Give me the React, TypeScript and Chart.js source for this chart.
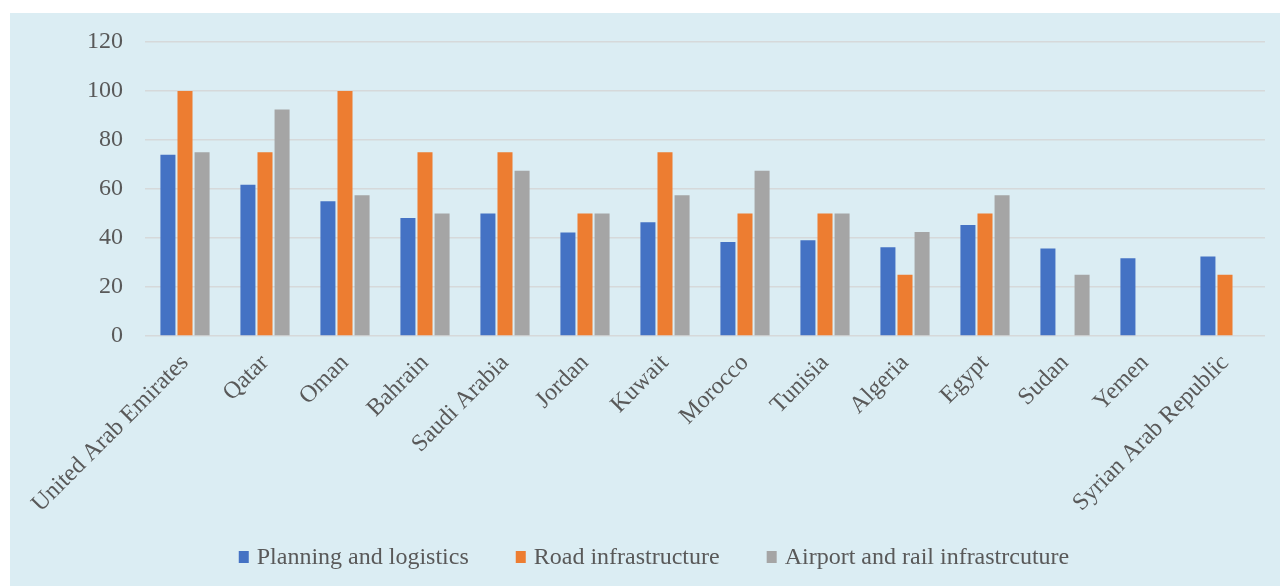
import React, { useEffect, useRef } from "react";
import { Chart, registerables } from "chart.js";

Chart.register(...registerables);

const categories = [
  "United Arab Emirates", "Qatar", "Oman", "Bahrain", "Saudi Arabia", "Jordan", "Kuwait",
  "Morocco", "Tunisia", "Algeria", "Egypt", "Sudan", "Yemen", "Syrian Arab Republic",
];
const planning = [74, 61.7, 55, 48.2, 50, 42.2, 46.4, 38.4, 39.1, 36.2, 45.3, 35.7, 31.7, 32.4];
const road = [100, 75, 100, 75, 75, 50, 75, 50, 50, 25, 50, null, null, 25];
const airport = [75, 92.5, 57.5, 50, 67.5, 50, 57.5, 67.5, 50, 42.5, 57.5, 25, null, null];
const yTicks = [0, 20, 40, 60, 80, 100, 120];

const FONT = "'Liberation Serif', 'Times New Roman', serif";
const TXT = "#595959";

const bottomLegend = {
  id: "bottomLegend",
  afterDraw(chart: any) {
    const ctx = chart.ctx as CanvasRenderingContext2D;
    ctx.save();
    ctx.font = `24px ${FONT}`;
    const boxW = 10, boxH = 12, boxGap = 8, itemGap = 47;
    const items = chart.data.datasets.map((d: any) => ({
      label: d.label as string,
      color: d.backgroundColor as string,
      w: ctx.measureText(d.label).width,
    }));
    const total =
      items.reduce((a: number, it: any) => a + boxW + boxGap + it.w, 0) + itemGap * (items.length - 1);
    let x = 644 - total / 2;
    const y = 544;
    ctx.textBaseline = "middle";
    ctx.textAlign = "left";
    for (const it of items) {
      ctx.fillStyle = it.color;
      ctx.fillRect(x, y - boxH / 2, boxW, boxH);
      x += boxW + boxGap;
      ctx.fillStyle = TXT;
      ctx.fillText(it.label, x, y + 1);
      x += it.w + itemGap;
    }
    ctx.restore();
  },
};

export default function App() {
  const ref = useRef<HTMLCanvasElement>(null);
  useEffect(() => {
    if (!ref.current) return;
    const chart = new Chart(ref.current, {
      type: "bar",
      data: {
        labels: categories,
        datasets: [
          { label: "Planning and logistics", data: planning, backgroundColor: "#4472C4" },
          { label: "Road infrastructure", data: road, backgroundColor: "#ED7D31" },
          { label: "Airport and rail infrastrcuture", data: airport, backgroundColor: "#A5A5A5" },
        ],
      },
      plugins: [bottomLegend],
      options: {
        animation: false,
        responsive: false,
        maintainAspectRatio: false,
        layout: { padding: { top: 29, right: 15, bottom: 65, left: 0 } },
        datasets: { bar: { categoryPercentage: 0.64, barPercentage: 0.88 } },
        scales: {
          x: {
            grid: { display: false, drawTicks: false },
            border: { display: false },
            afterFit: (s: any) => { s.height = 185; },
            ticks: {
              minRotation: 45,
              maxRotation: 45,
              autoSkip: false,
              padding: 13,
              color: TXT,
              font: { family: FONT, size: 24 },
            },
          },
          y: {
            min: 0,
            max: 120,
            afterBuildTicks: (s: any) => { s.ticks = yTicks.map((v) => ({ value: v })); },
            afterFit: (s: any) => { s.width = 135; s.paddingTop = 0; s.paddingBottom = 0; },
            grid: { color: "#D6D9DA", lineWidth: 1.5, drawTicks: false },
            border: { display: false },
            ticks: {
              padding: 22,
              color: TXT,
              font: { family: FONT, size: 24 },
            },
          },
        },
        plugins: {
          legend: { display: false },
          tooltip: { enabled: false },
        },
      },
    });
    return () => chart.destroy();
  }, []);
  return (
    <div
      style={{
        position: "absolute",
        left: 10,
        top: 13,
        width: 1270,
        height: 573,
        background: "#DBEDF3",
      }}
    >
      <canvas ref={ref} width={1270} height={573} style={{ display: "block" }} />
    </div>
  );
}
